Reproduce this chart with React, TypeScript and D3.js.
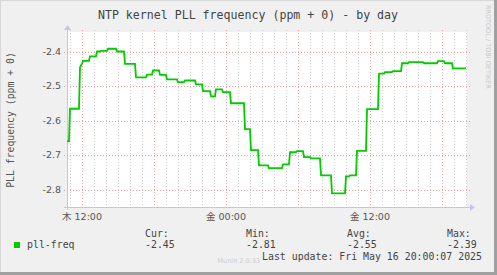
import React from "react";
import * as d3 from "d3";

const changeTimes = [
  "2025-05-15 10:45", "2025-05-15 11:00", "2025-05-15 11:50", "2025-05-15 11:55",
  "2025-05-15 12:00", "2025-05-15 12:05", "2025-05-15 12:40", "2025-05-15 13:15",
  "2025-05-15 13:35", "2025-05-15 14:10", "2025-05-15 14:55", "2025-05-15 15:35",
  "2025-05-15 16:30", "2025-05-15 17:25", "2025-05-15 17:55", "2025-05-15 18:30",
  "2025-05-15 19:05", "2025-05-15 20:00", "2025-05-15 20:35", "2025-05-15 21:30",
  "2025-05-15 22:05", "2025-05-15 22:45", "2025-05-15 23:10", "2025-05-15 23:45",
  "2025-05-16 00:25", "2025-05-16 01:35", "2025-05-16 02:05", "2025-05-16 02:45",
  "2025-05-16 03:35", "2025-05-16 04:45", "2025-05-16 05:20", "2025-05-16 05:55",
  "2025-05-16 06:30", "2025-05-16 07:05", "2025-05-16 07:55", "2025-05-16 08:50",
  "2025-05-16 10:00", "2025-05-16 10:20", "2025-05-16 10:55", "2025-05-16 11:45",
  "2025-05-16 12:45", "2025-05-16 13:15", "2025-05-16 13:55", "2025-05-16 14:40",
  "2025-05-16 15:15", "2025-05-16 16:30", "2025-05-16 17:40", "2025-05-16 18:15",
  "2025-05-16 18:55",
];
const changeValues = [
  -2.660, -2.566, -2.446, -2.440,
  -2.436, -2.427, -2.414, -2.400,
  -2.398, -2.392, -2.400, -2.436,
  -2.475, -2.467, -2.455, -2.468,
  -2.481, -2.489, -2.484, -2.495,
  -2.515, -2.530, -2.510, -2.518,
  -2.550, -2.625, -2.686, -2.730,
  -2.738, -2.727, -2.692, -2.689,
  -2.706, -2.710, -2.759, -2.811,
  -2.762, -2.759, -2.688, -2.567,
  -2.464, -2.460, -2.457, -2.434,
  -2.431, -2.434, -2.428, -2.434,
  -2.449,
];
const lastSampleTime = "2025-05-16 20:00";
const windowStart = "2025-05-15 10:45";
const windowEnd = "2025-05-16 20:05";
const yTicks = [-2.4, -2.5, -2.6, -2.7, -2.8];
const dayNames = ["日", "月", "火", "水", "木", "金", "土"];
const legendHeaders = ["Cur:", "Min:", "Avg:", "Max:"];
const legendValues = ["-2.45", "-2.81", "-2.55", "-2.39"];
const seriesName = "pll-freq";
const titleText = "NTP kernel PLL frequency (ppm + 0) - by day";
const yTitle = "PLL frequency (ppm + 0)";
const lastUpdate = "Last update: Fri May 16 20:00:07 2025";

const W = 497, H = 275;
const PL = 67, PR = 467, PT = 32, PB = 207;
const MONO = "'DejaVu Sans Mono', monospace";
const SANS = "'DejaVu Sans', 'Noto Sans CJK JP', sans-serif";

export default function App() {
  const parse = d3.timeParse("%Y-%m-%d %H:%M");
  const t0 = parse(windowStart)!;
  const t1 = parse(windowEnd)!;
  const x = d3.scaleTime().domain([t0, t1]).range([PL, PR]);
  const y = d3.scaleLinear().domain([-2.4, -2.8]).range([51.5, 189.5]);

  const times = changeTimes.map((s) => parse(s)!);
  const endT = parse(lastSampleTime)!;
  const pts: [Date, number][] = [];
  times.forEach((t, i) => {
    const next = i + 1 < times.length ? new Date(times[i + 1].getTime() - 5 * 60000) : endT;
    pts.push([t, changeValues[i]]);
    if (next.getTime() > t.getTime()) pts.push([next, changeValues[i]]);
  });
  const line = d3.line<[Date, number]>().x((d) => x(d[0])).y((d) => y(d[1]));

  const minor = d3.timeHour.every(1)!.range(t0, t1);
  const major = d3.timeHour.every(6)!.range(t0, t1);
  const labelTicks = d3.timeHour.every(12)!.range(t0, t1);
  const fmt = d3.timeFormat("%H:%M");
  const px = (d: Date) => Math.round(x(d)) + 0.5;

  const axisColor = "#c4c4f4";
  const legendX = [145, 246, 347, 447];

  return (
    <svg width={W} height={H} style={{ position: "fixed", left: 0, top: 0 }}>
      <rect x={0} y={0} width={W} height={H} fill="#f0f0f0" />
      <rect x={0} y={0} width={W} height={1} fill="#d8d8d8" />
      <rect x={0} y={0} width={1} height={H} fill="#d8d8d8" />
      <rect x={W - 3} y={0} width={3} height={H} fill="#a0a0a0" />
      <rect x={0} y={H - 3} width={W} height={3} fill="#a0a0a0" />
      <rect x={PL} y={PT} width={PR - PL} height={PB - PT} fill="#ffffff" />

      {minor.map((d, i) => (
        <line key={"mn" + i} x1={px(d)} x2={px(d)} y1={PT - 2} y2={PB + 3}
          stroke="#d0d0d0" strokeWidth={1} strokeDasharray="1,2" />
      ))}
      {major.map((d, i) => (
        <line key={"mj" + i} x1={px(d)} x2={px(d)} y1={PT - 2} y2={PB + 3}
          stroke="#eaa0a0" strokeWidth={1} strokeDasharray="1,2" />
      ))}
      {yTicks.map((v, i) => (
        <line key={"hy" + i} x1={PL - 3} x2={PR + 3} y1={Math.round(y(v)) + 0.5} y2={Math.round(y(v)) + 0.5}
          stroke="#eaa0a0" strokeWidth={1} strokeDasharray="1,2" />
      ))}

      {/* axes */}
      <line x1={PL - 3} x2={PR + 3} y1={PB + 0.5} y2={PB + 0.5} stroke={axisColor} strokeWidth={1} />
      <path d={`M${PR + 3},${PB - 3} L${PR + 8},${PB + 0.5} L${PR + 3},${PB + 4} Z`} fill={axisColor} />
      <line x1={PL + 0.5} x2={PL + 0.5} y1={PB + 3} y2={PT - 2} stroke={axisColor} strokeWidth={1} />
      <path d={`M${PL - 3},${PT - 2} L${PL + 0.5},${PT - 7} L${PL + 4},${PT - 2} Z`} fill={axisColor} />

      <path d={line(pts) || ""} fill="none" stroke="#00cc00" strokeWidth={1.8} />

      {yTicks.map((v, i) => (
        <text key={"yl" + i} x={61} y={y(v)} dy="0.35em" textAnchor="end"
          fontFamily={SANS} fontSize={9.5} fill="#555">{v.toFixed(1)}</text>
      ))}
      {labelTicks.map((d, i) => (
        <text key={"xl" + i} x={x(d)} y={220} textAnchor="middle"
          fontFamily={SANS} fontSize={9.5} fill="#555">{dayNames[d.getDay()] + " " + fmt(d)}</text>
      ))}

      <text x={248} y={19} textAnchor="middle" fontFamily={MONO} fontSize={11.6} fill="#444">{titleText}</text>
      <text transform="translate(14,120) rotate(-90)" textAnchor="middle" fontFamily={MONO} fontSize={9.8} fill="#555">{yTitle}</text>
      <text transform="translate(486,5) rotate(90)" fontFamily={SANS} fontSize={6.5} fill="#c8c8c8">RRDTOOL / TOBI OETIKER</text>

      <rect x={14} y={242} width={6} height={6} fill="#00cc00" />
      <text x={27} y={248} fontFamily={MONO} fontSize={9.9} fill="#444">{seriesName}</text>
      {legendHeaders.map((h, i) => (
        <text key={"lh" + i} x={legendX[i]} y={237} fontFamily={MONO} fontSize={9.9} fill="#444">{h}</text>
      ))}
      {legendValues.map((v, i) => (
        <text key={"lv" + i} x={legendX[i]} y={248} fontFamily={MONO} fontSize={9.9} fill="#444">{v}</text>
      ))}
      <text x={260} y={263} textAnchor="end" fontFamily={SANS} fontSize={6.5} fill="#cccccc">Munin 2.0.33</text>
      <text x={482} y={260} textAnchor="end" fontFamily={MONO} fontSize={9.9} fill="#444">{lastUpdate}</text>
    </svg>
  );
}
